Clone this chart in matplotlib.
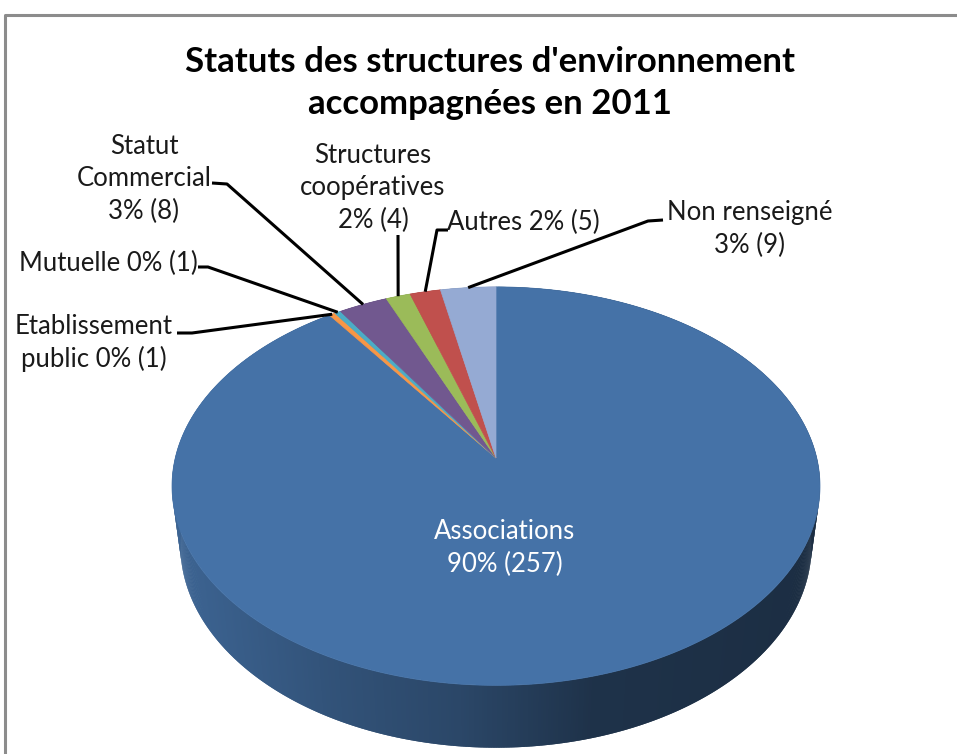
import numpy as np
import matplotlib
matplotlib.use("Agg")
import matplotlib.pyplot as plt
from matplotlib.patches import Polygon
from matplotlib.collections import PolyCollection
from matplotlib.colors import to_rgb

# ---------------- data ----------------
title = "Statuts des structures d'environnement\naccompagnées en 2011"
categories = ["Associations", "Etablissement public", "Mutuelle", "Statut Commercial",
              "Structures coopératives", "Autres", "Non renseigné"]
counts = [257, 1, 1, 8, 4, 5, 9]
percents = ["90%", "0%", "0%", "3%", "2%", "2%", "3%"]
label_texts = ["Associations\n90% (257)",
               "Etablissement\npublic 0% (1)",
               "Mutuelle 0% (1)",
               "Statut\nCommercial\n3% (8)",
               "Structures\ncoopératives\n2% (4)",
               "Autres 2% (5)",
               "Non renseigné\n3% (9)"]
colors = ["#4572A7", "#F79646", "#4BACC6", "#71588F", "#9BBB59", "#C0504D", "#95AAD3"]

# ---------------- layout ----------------
W, Hpx = 957, 754
fig = plt.figure(figsize=(W / 100, Hpx / 100), dpi=100)
ax = fig.add_axes([0, 0, 1, 1])
ax.set_xlim(0, W)
ax.set_ylim(Hpx, 0)
ax.axis("off")

FONT = ["Lato", "DejaVu Sans"]

# chart frame
ax.plot([5, 5, W], [Hpx, 15, 15], color="#8c8c8c", lw=2.2, solid_capstyle="butt")

# perspective projection of a 3D pie
ALPHA = np.deg2rad(37.5)
DIST = 5.62
DEPTH = 0.24
sa, ca = np.sin(ALPHA), np.cos(ALPHA)
CX, CY = 496, 458


def proj(X, Y, Z):
    d = DIST + Y * ca - Z * sa
    return X / d, (Y * sa + Z * ca) / d


tt = np.linspace(0, 2 * np.pi, 4000)
K = 324 / np.max(np.abs(proj(np.sin(tt), np.cos(tt), 0)[0]))


def to_px(theta, Z=0.0, r=1.0):
    sx, sy = proj(r * np.sin(theta), r * np.cos(theta), Z)
    return CX + K * sx, CY - K * sy


vals = np.array(counts, dtype=float)
fr = vals / vals.sum()
edges = np.concatenate([[0], np.cumsum(fr)]) * 2 * np.pi  # clockwise from top

# side walls (overlapping strips, painted back to front)
shade_u = [0.0, 0.25, 0.45, 0.55, 0.65, 1.0]
shade_f = [0.88, 0.72, 0.62, 0.53, 0.44, 0.40]
quads, qcols, qdepth = [], [], []
step = np.deg2rad(0.4)
for i, c in enumerate(colors):
    a0, a1 = edges[i], edges[i + 1]
    n = max(2, int((a1 - a0) / step))
    th = np.linspace(a0, a1, n + 1)
    xt, yt = to_px(th, 0.0)
    xb, yb = to_px(th, -DEPTH)
    base = np.array(to_rgb(c))
    for j in range(n):
        k = min(j + 2, n)
        q = [(xt[j], yt[j]), (xt[k], yt[k]), (xb[k], yb[k]), (xb[j], yb[j])]
        xm = 0.5 * (xt[j] + xt[j + 1])
        u = (xm - (CX - 324)) / 648
        f = np.interp(u, shade_u, shade_f)
        quads.append(q)
        qcols.append(tuple(np.clip(base * f, 0, 1)))
        qdepth.append(np.cos(0.5 * (th[j] + th[j + 1])))
order = np.argsort(qdepth)[::-1]
pc = PolyCollection([quads[k] for k in order], facecolors=[qcols[k] for k in order],
                    edgecolors="none", linewidths=0, antialiaseds=True)
ax.add_collection(pc)

# top faces
for i, c in enumerate(colors):
    a0, a1 = edges[i], edges[i + 1]
    n = max(3, int(np.degrees(a1 - a0) / 0.5))
    th = np.linspace(a0, a1, n + 1)
    xs, ys = to_px(th, 0.0)
    pts = [(CX, CY)] + list(zip(xs, ys))
    ax.add_patch(Polygon(pts, closed=True, facecolor=c, edgecolor=c, lw=0.5, zorder=3))

# labels and leader lines
mid = 0.5 * (edges[:-1] + edges[1:])
label_pos = {0: (505, 548), 1: (94, 343), 2: (108, 263), 3: (144, 179),
             4: (373, 188), 5: (523, 222), 6: (750, 229)}
leader_start = {1: [(177, 333), (192, 333)],
                2: [(198, 267), (208, 267)],
                3: [(212, 183), (227, 184)],
                4: [(398, 235)],
                5: [(448, 230), (437, 230)],
                6: [(663, 220), (648, 221)]}
for i, txt in enumerate(label_texts):
    x, y = label_pos[i]
    ax.text(x, y, txt, ha="center", va="center", fontsize=18.5, family=FONT,
            color="white" if i == 0 else "#1a1a1a", linespacing=1.36, zorder=6)
    if i in leader_start:
        ax_, ay_ = to_px(mid[i], 0.0)
        pts = leader_start[i] + [(ax_, ay_)]
        ax.plot([p[0] for p in pts], [p[1] for p in pts], color="black", lw=2.2,
                zorder=5, solid_capstyle="butt")

ax.text(490, 83, title, ha="center", va="center", fontsize=25, fontweight="bold",
        family=FONT, color="black", linespacing=1.38)

fig.savefig("out.png", dpi=100, facecolor="white")
